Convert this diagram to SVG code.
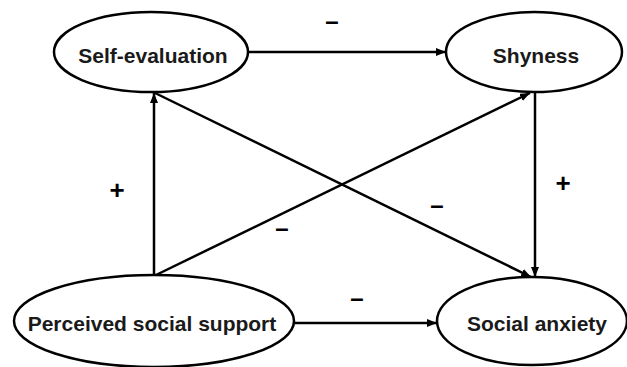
<svg xmlns="http://www.w3.org/2000/svg" width="627" height="367" viewBox="0 0 627 367">
<style>
.node ellipse{fill:#fff;stroke:#000;stroke-width:2.5}
.node text{font-family:"Liberation Sans",Arial,sans-serif;font-weight:bold;font-size:21px;fill:#1a1a1a;text-anchor:middle}
.edges line{stroke:#000;stroke-width:2.5;marker-end:url(#arr)}
.lbl{font-family:"Liberation Sans",Arial,sans-serif;font-weight:bold;font-size:24px;fill:#000;text-anchor:middle}
.plus{font-size:26px}
</style>
<defs>
<marker id="arr" markerUnits="userSpaceOnUse" markerWidth="10" markerHeight="8" refX="10" refY="4" orient="auto">
<path d="M0,0 L10,4 L0,8 z" fill="#000"/>
</marker>
</defs>
<rect width="627" height="367" fill="#fff"/>
<g class="edges">
<line x1="248" y1="52" x2="446" y2="52"/>
<line x1="154" y1="275" x2="154" y2="93"/>
<line x1="156" y1="275" x2="530" y2="93"/>
<line x1="153" y1="92" x2="531" y2="277"/>
<line x1="535" y1="92" x2="535" y2="277"/>
<line x1="294" y1="323" x2="437" y2="323"/>
</g>
<g id="self-evaluation" class="node"><ellipse cx="151" cy="52" rx="97" ry="40"/><text x="153" y="63">Self-evaluation</text></g>
<g id="shyness" class="node"><ellipse cx="534" cy="52" rx="88" ry="40"/><text x="536" y="63">Shyness</text></g>
<g id="perceived-social-support" class="node"><ellipse cx="154" cy="321" rx="140" ry="46"/><text x="152" y="331">Perceived social support</text></g>
<g id="social-anxiety" class="node"><ellipse cx="532" cy="321" rx="95" ry="44"/><text x="537" y="331">Social anxiety</text></g>
<g id="labels">
<text class="lbl" x="332" y="29">–</text>
<text class="lbl plus" x="117" y="199">+</text>
<text class="lbl" x="282" y="236">–</text>
<text class="lbl" x="437" y="213">–</text>
<text class="lbl plus" x="563" y="192">+</text>
<text class="lbl" x="357" y="306">–</text>
</g>
</svg>
